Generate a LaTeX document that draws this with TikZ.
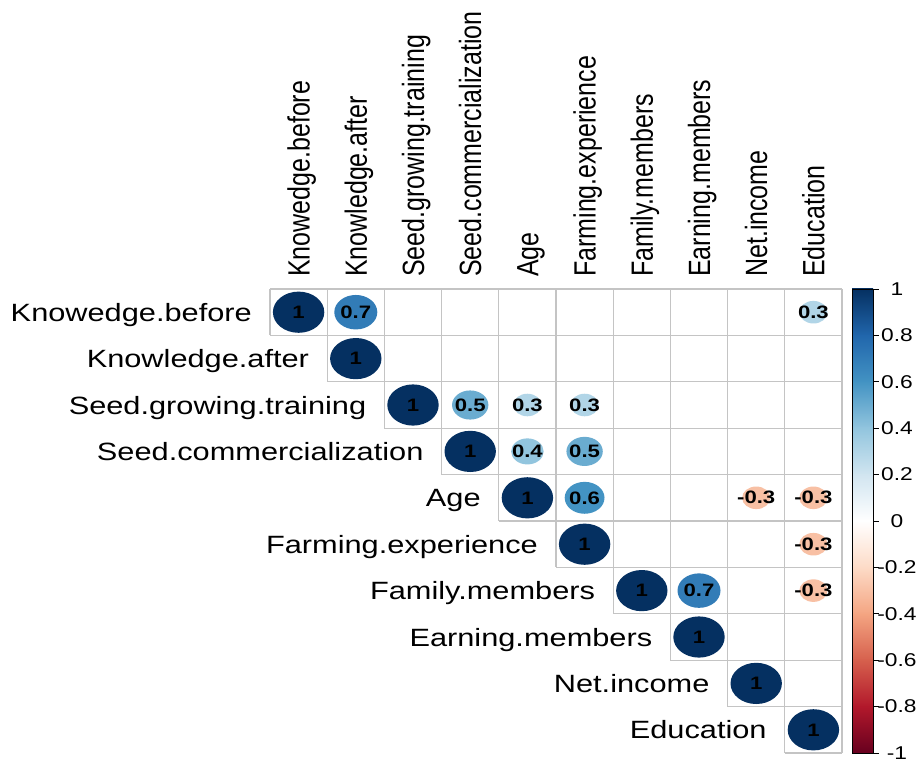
\documentclass[tikz,border=0pt]{standalone}
\usepackage{fontspec}
\setmainfont{Liberation Sans}
\usepackage{graphicx}

% RdBu scale, -1 (rdbu0) to 1 (rdbu10)
\definecolor{rdbu0}{HTML}{67001F}
\definecolor{rdbu1}{HTML}{B2182B}
\definecolor{rdbu2}{HTML}{D6604D}
\definecolor{rdbu3}{HTML}{F4A582}
\definecolor{rdbu4}{HTML}{FDDBC7}
\definecolor{rdbu5}{HTML}{FFFFFF}
\definecolor{rdbu6}{HTML}{D1E5F0}
\definecolor{rdbu7}{HTML}{92C5DE}
\definecolor{rdbu8}{HTML}{4393C3}
\definecolor{rdbu9}{HTML}{2166AC}
\definecolor{rdbu10}{HTML}{053061}
\definecolor{corrone}{HTML}{053061}
\definecolor{corrseven}{HTML}{327CB7}
\definecolor{corrsix}{HTML}{4393C3}
\definecolor{corrfive}{HTML}{6AACD0}
\definecolor{corrfour}{HTML}{92C5DE}
\definecolor{corrthree}{HTML}{B1D5E7}
\definecolor{corrmthree}{HTML}{F8C0A4}
\definecolor{gridgray}{HTML}{C4C4C4}

\tikzset{
  gridcell/.style={minimum width=57.2pt, minimum height=46.4pt, inner sep=0pt},
  gridline/.style={draw=gridgray, line width=1.2pt},
  rowlab/.style={anchor=base east, inner sep=0pt, font=\fontsize{25}{30}\selectfont},
  collab/.style={anchor=base west, rotate=90, inner sep=0pt, font=\fontsize{25}{30}\selectfont},
  numlab/.style={inner sep=0pt, text=black, font=\fontsize{18}{21}\selectfont\bfseries},
  barlab/.style={inner sep=0pt, font=\fontsize{18.5}{22}\selectfont}
}

\begin{document}
\begin{tikzpicture}[x=1pt, y=-1pt]

\fill[white] (0,0) rectangle (917,763);
\useasboundingbox (0,0) rectangle (917,763);

% upper triangle cells
\foreach \ri in {0,...,9}
  \foreach \cj in {\ri,...,9}
    \node[gridcell] (cell-\ri-\cj) at ({270+57.2*(\cj+0.5)}, {289+46.4*(\ri+0.5)}) {};

% grid lines
\foreach \k in {0,...,10}{
  \pgfmathsetmacro\xs{270+57.2*max(\k-1,0)}
  \pgfmathsetmacro\ye{289+46.4*(min(\k,9)+1)}
  \draw[gridline] (\xs,{289+46.4*\k}) -- (842,{289+46.4*\k});
  \draw[gridline] ({270+57.2*\k},289) -- ({270+57.2*\k},\ye);
}

% circles and values
\foreach \ri/\cj/\rv/\col/\lab in {0/0/1/corrone/1, 0/1/0.7/corrseven/0.7, 0/9/0.3/corrthree/0.3,
    1/1/1/corrone/1,
    2/2/1/corrone/1, 2/3/0.5/corrfive/0.5, 2/4/0.3/corrthree/0.3, 2/5/0.3/corrthree/0.3,
    3/3/1/corrone/1, 3/4/0.4/corrfour/0.4, 3/5/0.5/corrfive/0.5,
    4/4/1/corrone/1, 4/5/0.6/corrsix/0.6, 4/8/-0.3/corrmthree/-0.3, 4/9/-0.3/corrmthree/-0.3,
    5/5/1/corrone/1, 5/9/-0.3/corrmthree/-0.3,
    6/6/1/corrone/1, 6/7/0.7/corrseven/0.7, 6/9/-0.3/corrmthree/-0.3,
    7/7/1/corrone/1, 8/8/1/corrone/1, 9/9/1/corrone/1}
{
  \fill[\col] (cell-\ri-\cj.center) ellipse [x radius={25.7pt*sqrt(abs(\rv))}, y radius={20.6pt*sqrt(abs(\rv))}];
  \node[numlab] (val-\ri-\cj) at (cell-\ri-\cj.center) {\scalebox{1.23}[1]{\lab}};
}

% column labels
\foreach \name [count=\k from 0] in {Knowedge.before, Knowledge.after, Seed.growing.training,
    Seed.commercialization, Age, Farming.experience, Family.members, Earning.members, Net.income, Education}
  \node[collab] (col-\k) at ({270+57.2*(\k+0.5)+11}, 277) {\scalebox{1}[1.23]{\name}};

% row labels
\foreach \name [count=\k from 0] in {Knowedge.before, Knowledge.after, Seed.growing.training,
    Seed.commercialization, Age, Farming.experience, Family.members, Earning.members, Net.income, Education}
  \node[rowlab] (row-\k) at ({270+57.2*\k-18}, {289+46.4*(\k+0.5)+9}) {\scalebox{1.23}[1]{\name}};

% colour bar
\foreach \k in {0,...,9}{
  \pgfmathtruncatemacro\up{10-\k}
  \pgfmathtruncatemacro\dn{9-\k}
  \shade[top color=rdbu\up, bottom color=rdbu\dn] (852,{289+46.4*\k-0.3}) rectangle (873,{289+46.4*(\k+1)+0.3});
}
\draw[black, line width=0.9pt] (852,289) rectangle (873,753);
\foreach \val [count=\k from 0] in {1,0.8,0.6,0.4,0.2,0,-0.2,-0.4,-0.6,-0.8,-1}{
  \draw[black, line width=1pt] (873,{289+46.4*\k}) -- (879,{289+46.4*\k});
  \node[barlab] (tick-\k) at (897,{289+46.4*\k}) {\scalebox{1.23}[1]{\val}};
}

\end{tikzpicture}
\end{document}
